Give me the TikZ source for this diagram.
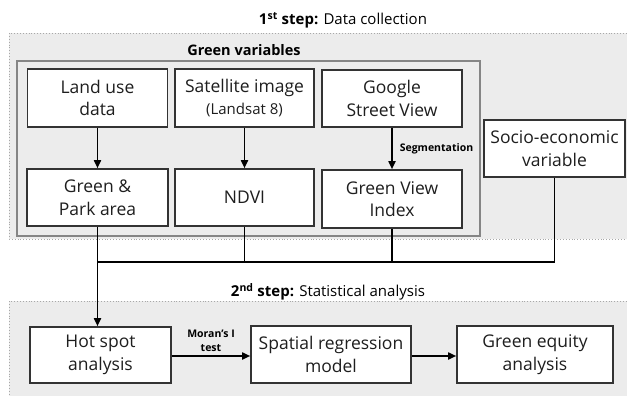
\documentclass[tikz,border=0pt]{standalone}
\usepackage{fontspec}
\setmainfont{Open Sans}
\usetikzlibrary{arrows.meta}
\definecolor{panelbg}{HTML}{ECECEC}
\definecolor{paneldot}{HTML}{A8A8A8}
\definecolor{groupline}{HTML}{858585}
\definecolor{boxline}{HTML}{333333}
\definecolor{inkc}{HTML}{1E1E1E}
\begin{document}
\begin{tikzpicture}[x=1pt,y=-1pt,
  panel/.style={fill=panelbg, draw=paneldot, dotted, line width=0.9pt},
  group/.style={draw=groupline, line width=1.8pt},
  box/.style={draw=boxline, line width=1.6pt, fill=white, align=center,
    inner sep=0pt, text=inkc, font=\fontsize{17.5}{22.5}\selectfont},
  conn/.style={draw=black, line width=1.7pt},
  arr/.style={conn, -{Triangle[length=8pt,width=7pt]}},
  tiny/.style={font=\bfseries\fontsize{10.5}{14}\selectfont, align=center, text=black},
  title/.style={font=\fontsize{15}{17}\selectfont, text=black}
]
\useasboundingbox (0,0) rectangle (627,396);
\clip (0,0) rectangle (627,396);
\fill[white] (0,0) rectangle (627,396);

% panels
\draw[panel] (9,33) rectangle (660,239);
\draw[panel] (9,301) rectangle (660,420);
\draw[group] (17,61) rectangle (480,236);

% titles
\node[title] (t1) at (343,20) {\textbf{1\textsuperscript{st} step:} Data collection};
\node[title] (t2) at (328,292) {\textbf{2\textsuperscript{nd} step:} Statistical analysis};
\node[font=\bfseries\fontsize{14.5}{17}\selectfont] (gv) at (244,50) {Green variables};

% row 1
\node[box, minimum width=140pt, minimum height=58pt] (land) at (97.5,98) {Land use\\data};
\node[box, minimum width=139pt, minimum height=58pt] (sat) at (244.5,98) {Satellite image\\{\fontsize{15}{20}\selectfont(Landsat 8)}};
\node[box, minimum width=140pt, minimum height=57pt] (gsv) at (392,98.5) {Google\\Street View};

% row 2
\node[box, minimum width=141pt, minimum height=57pt] (park) at (97.5,197.5) {Green \&\\Park area};
\node[box, minimum width=139pt, minimum height=57pt] (ndvi) at (244.5,197.5) {NDVI};
\node[box, minimum width=140pt, minimum height=58pt] (gvi) at (392,199) {Green View\\Index};

\node[box, minimum width=141pt, minimum height=57pt] (socio) at (554.5,148.5) {Socio-economic\\variable};

% row 3
\node[box, minimum width=141pt, minimum height=56pt] (hot) at (100.5,355) {Hot spot\\analysis};
\node[box, minimum width=160pt, minimum height=57pt] (spat) at (331,354.5) {Spatial regression\\model};
\node[box, minimum width=156pt, minimum height=57pt] (equ) at (535,354.5) {Green equity\\analysis};

% connectors row1 -> row2
\draw[arr] (land.south) -- (land.south |- park.north);
\draw[arr] (sat.south) -- (sat.south |- ndvi.north);
\draw[arr] (gsv.south) -- (gsv.south |- gvi.north);
\node[tiny] (seg) at (436.5,149) {Segmentation};

% merge
\coordinate (m) at (0,262);
\draw[conn] (park.south |- m) -- (socio.south |- m);
\draw[conn] (ndvi.south) -- (ndvi.south |- m);
\draw[conn] (gvi.south) -- (gvi.south |- m);
\draw[conn] (socio.south) -- (socio.south |- m);
\draw[arr] (park.south) -- (park.south |- hot.north);

% row 3 connectors
\draw[arr] (hot.east |- 0,356) -- (spat.west |- 0,356);
\draw[arr] (spat.east |- 0,356) -- (equ.west |- 0,356);
\node[tiny] (moran) at (211,341) {Moran's I\\test};
\end{tikzpicture}
\end{document}
